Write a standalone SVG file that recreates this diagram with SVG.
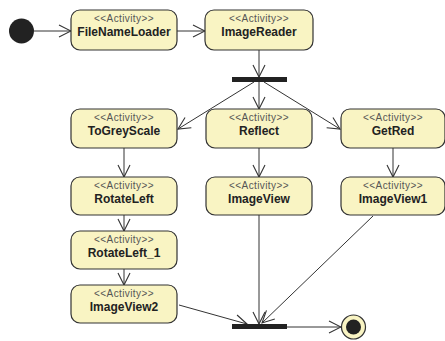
<svg xmlns="http://www.w3.org/2000/svg" width="445" height="341" viewBox="0 0 445 341">
<style>
.box{fill:#f9f4c3;stroke:#333;stroke-width:1.2}
.st{font-family:"Liberation Sans",Arial,sans-serif;font-size:10px;letter-spacing:0.4px;fill:#555;text-anchor:middle}
.nm{font-family:"Liberation Sans",Arial,sans-serif;font-size:12px;font-weight:bold;fill:#222;text-anchor:middle}
.e{fill:none;stroke:#333;stroke-width:1;marker-end:url(#arr)}
.bar{fill:#222}
</style>
<defs>
<marker id="arr" viewBox="0 0 14 14" refX="13" refY="7" markerWidth="14" markerHeight="14" markerUnits="userSpaceOnUse" orient="auto">
<path d="M1,1 L13,7 L1,13" fill="none" stroke="#333" stroke-width="1.1"/>
</marker>
</defs>
<g id="connectors">
<line class="e" x1="34" y1="31" x2="71" y2="31"/>
<line class="e" x1="177" y1="31" x2="205" y2="31"/>
<line class="e" x1="259" y1="50" x2="259" y2="77"/>
<line class="e" x1="254" y1="82" x2="178" y2="129"/>
<line class="e" x1="259" y1="82" x2="259" y2="109"/>
<line class="e" x1="264" y1="82" x2="340" y2="129"/>
<line class="e" x1="124" y1="148" x2="124" y2="177"/>
<line class="e" x1="259" y1="148" x2="259" y2="177"/>
<line class="e" x1="393" y1="148" x2="393" y2="177"/>
<line class="e" x1="124" y1="215" x2="124" y2="231"/>
<line class="e" x1="124" y1="269" x2="124" y2="285"/>
<line class="e" x1="179" y1="305" x2="247" y2="324"/>
<line class="e" x1="259" y1="215" x2="259" y2="324"/>
<line class="e" x1="373" y1="216" x2="262" y2="323"/>
<line class="e" x1="287" y1="327" x2="341" y2="327"/>
</g>
<g id="initial"><circle cx="21.5" cy="31" r="12.5" fill="#222"/></g>
<g id="FileNameLoader"><rect class="box" x="71" y="10" width="106" height="40" rx="9"/><text class="st" x="124" y="21.5">&lt;&lt;Activity&gt;&gt;</text><text class="nm" x="124" y="36">FileNameLoader</text></g>
<g id="ImageReader"><rect class="box" x="205" y="10" width="108" height="40" rx="9"/><text class="st" x="259" y="21.5">&lt;&lt;Activity&gt;&gt;</text><text class="nm" x="259" y="36">ImageReader</text></g>
<g id="fork"><rect class="bar" x="232" y="77" width="55" height="5"/></g>
<g id="ToGreyScale"><rect class="box" x="71" y="109" width="106" height="39" rx="9"/><text class="st" x="124" y="120.5">&lt;&lt;Activity&gt;&gt;</text><text class="nm" x="124" y="134.5">ToGreyScale</text></g>
<g id="Reflect"><rect class="box" x="206" y="109" width="106" height="39" rx="9"/><text class="st" x="259" y="120.5">&lt;&lt;Activity&gt;&gt;</text><text class="nm" x="259" y="134.5">Reflect</text></g>
<g id="GetRed"><rect class="box" x="341" y="109" width="104" height="39" rx="9"/><text class="st" x="393" y="120.5">&lt;&lt;Activity&gt;&gt;</text><text class="nm" x="393" y="134.5">GetRed</text></g>
<g id="RotateLeft"><rect class="box" x="71" y="177" width="106" height="38" rx="9"/><text class="st" x="124" y="188.5">&lt;&lt;Activity&gt;&gt;</text><text class="nm" x="124" y="202.5">RotateLeft</text></g>
<g id="ImageView"><rect class="box" x="206" y="177" width="106" height="38" rx="9"/><text class="st" x="259" y="188.5">&lt;&lt;Activity&gt;&gt;</text><text class="nm" x="259" y="202.5">ImageView</text></g>
<g id="ImageView1"><rect class="box" x="341" y="177" width="104" height="38" rx="9"/><text class="st" x="393" y="188.5">&lt;&lt;Activity&gt;&gt;</text><text class="nm" x="393" y="202.5">ImageView1</text></g>
<g id="RotateLeft_1"><rect class="box" x="71" y="231" width="106" height="38" rx="9"/><text class="st" x="124" y="242.5">&lt;&lt;Activity&gt;&gt;</text><text class="nm" x="124" y="256.5">RotateLeft_1</text></g>
<g id="ImageView2"><rect class="box" x="71" y="285" width="106" height="38" rx="9"/><text class="st" x="124" y="296.5">&lt;&lt;Activity&gt;&gt;</text><text class="nm" x="124" y="310.5">ImageView2</text></g>
<g id="join"><rect class="bar" x="232" y="324" width="55" height="5"/></g>
<g id="final"><circle cx="353.5" cy="327" r="12" fill="#f9f4c3" stroke="#333" stroke-width="1.2"/><circle cx="353.5" cy="327" r="7.5" fill="#222"/></g>
</svg>
